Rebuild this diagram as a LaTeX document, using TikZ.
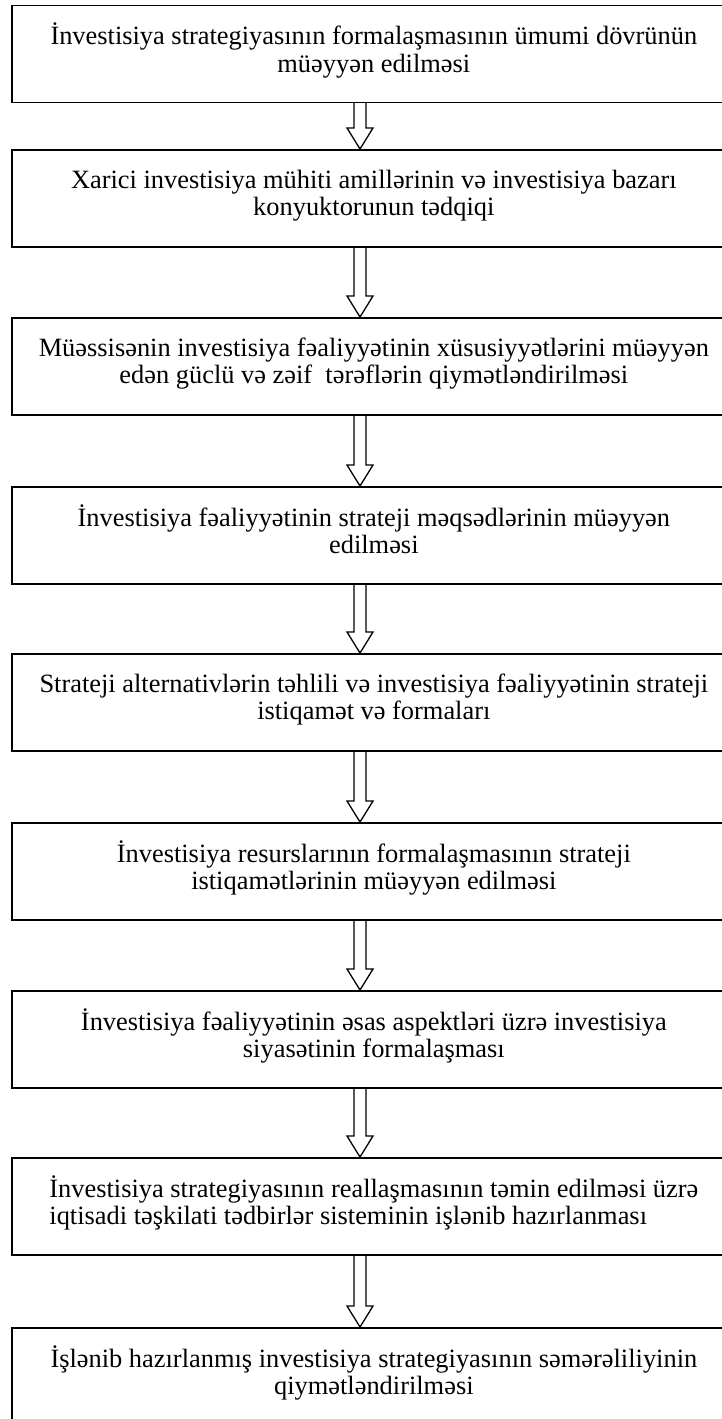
\documentclass[tikz,border=0pt]{standalone}
\usepackage{fontspec}
\setmainfont{Liberation Serif}
\usetikzlibrary{calc}
\newcommand\stagearrow[2]{%
  \draw[blockarr] ($(#1.south -| ax)+(-6,0)$) -- ($(#2.north -| ax)+(-6,-21)$) -- ++(-7,0)
    -- (#2.north -| ax) -- ($(#2.north -| ax)+(13,-21)$) -- ++(-7,0) -- ($(#1.south -| ax)+(6,0)$);}
\newcommand\stagetext[3][c]{\raisebox{2pt}[\height][\depth]{\begin{tabular}{@{}#1@{}}#2\\#3\end{tabular}}}
\begin{document}
\begin{tikzpicture}[x=1pt,y=-1pt,
  stage/.style={draw=black, line width=1.7pt, minimum width=724pt, minimum height=97pt,
    inner sep=0pt, anchor=north west, font=\fontsize{26.4}{27.8}\selectfont},
  blockarr/.style={draw=black, line width=1.3pt, line join=miter}]
\useasboundingbox (0,0) rectangle (722,1419);
\clip (0,0) rectangle (722,1419);
\coordinate (ax) at (360,0);
\node[stage] (b1) at (11,4.5) {\stagetext{İnvestisiya strategiyasının formalaşmasının ümumi dövrünün}{müəyyən edilməsi}};
\node[stage] (b2) at (11,149) {\stagetext{Xarici investisiya mühiti amillərinin və investisiya bazarı}{konyuktorunun tədqiqi}};
\node[stage] (b3) at (11,317) {\stagetext{Müəssisənin investisiya fəaliyyətinin xüsusiyyətlərini müəyyən}{edən güclü və zəif\ \ tərəflərin qiymətləndirilməsi}};
\node[stage] (b4) at (11,486) {\stagetext{İnvestisiya fəaliyyətinin strateji məqsədlərinin müəyyən}{edilməsi}};
\node[stage] (b5) at (11,653) {\stagetext{Strateji alternativlərin təhlili və investisiya fəaliyyətinin strateji}{istiqamət və formaları}};
\node[stage] (b6) at (11,822) {\stagetext{İnvestisiya resurslarının formalaşmasının strateji}{istiqamətlərinin müəyyən edilməsi}};
\node[stage] (b7) at (11,990) {\stagetext{İnvestisiya fəaliyyətinin əsas aspektləri üzrə investisiya}{siyasətinin formalaşması}};
\node[stage] (b8) at (11,1157) {\stagetext[l]{İnvestisiya strategiyasının reallaşmasının təmin edilməsi üzrə}{iqtisadi təşkilati tədbirlər sisteminin işlənib hazırlanması}};
\node[stage] (b9) at (11,1327) {\stagetext{İşlənib hazırlanmış investisiya strategiyasının səmərəliliyinin}{qiymətləndirilməsi}};
\stagearrow{b1}{b2}
\stagearrow{b2}{b3}
\stagearrow{b3}{b4}
\stagearrow{b4}{b5}
\stagearrow{b5}{b6}
\stagearrow{b6}{b7}
\stagearrow{b7}{b8}
\stagearrow{b8}{b9}
\end{tikzpicture}
\end{document}
